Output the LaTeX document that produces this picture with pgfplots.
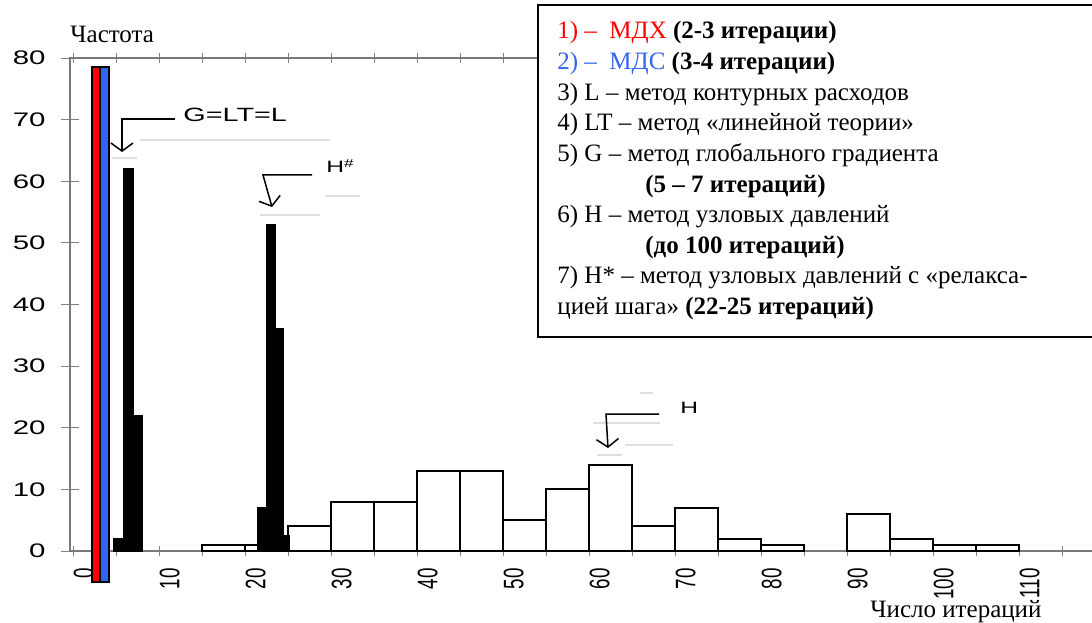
\documentclass[border=0pt]{standalone}
\usepackage{fontspec}
\setmainfont{Liberation Serif}
\newfontfamily\widesans[FakeStretch=1.5]{Liberation Sans}
\newfontfamily\plainsans{Liberation Sans}
\usepackage{pgfplots}
\pgfplotsset{compat=1.18}
\usetikzlibrary{arrows.meta}

\definecolor{mdxred}{RGB}{255,0,0}
\definecolor{mdsblue}{RGB}{51,102,240}
\definecolor{framegray}{RGB}{120,120,120}

\begin{document}
\begin{tikzpicture}
\useasboundingbox (0,0) rectangle (546pt,311pt);
\clip (0,0) rectangle (546pt,311pt);

\begin{axis}[
  at={(35pt,35.5pt)}, anchor=south west,
  scale only axis,
  width=539pt, height=246.5pt,
  xmin=-0.35, xmax=125,
  ymin=0, ymax=80,
  clip=false,
  axis line style={framegray, line width=1pt},
  xtick={0,10,...,110},
  minor xtick={5,15,...,115},
  ytick={0,10,...,80},
  tick align=center,
  major tick length=9pt,
  minor tick length=5pt,
  tick style={gray, line width=0.5pt},
  xtick style={/pgfplots/major tick length=5pt},
  /pgf/number format/assume math mode=true,
  yticklabel style={font=\widesans\fontsize{9.8}{9.8}\selectfont,
    inner sep=0pt, anchor=east, xshift=-7.5pt},
  xticklabel style={font=\plainsans\fontsize{9.4}{9.4}\selectfont,
    inner sep=0pt, yshift=-4pt, xscale=1.5, rotate=90, anchor=north east},
]

% H: histogram of iteration counts, bins of width 5
\addplot[ybar interval, fill=white, draw=black, line width=1pt]
  coordinates {(15,1) (20,1) (25,4) (30,8) (35,8) (40,13) (45,13) (50,5)
               (55,10) (60,14) (65,4) (70,7) (75,2) (80,1) (85,0)};
\addplot[ybar interval, fill=white, draw=black, line width=1pt]
  coordinates {(90,6) (95,2) (100,1) (105,1) (110,0)};

% G = LT = L
\addplot[ybar interval, fill=black, draw=black, line width=0.8pt]
  coordinates {(4.7,2) (5.9,62) (7.0,22) (8.0,0)};

% H#
\addplot[ybar interval, fill=black, draw=black, line width=0.8pt]
  coordinates {(21.5,7) (22.5,53) (23.5,36) (24.4,2.5) (25.1,0)};

% MDX and MDS
\addplot[fill=mdxred, draw=black, line width=1pt]
  coordinates {(2.2,-5) (3.15,-5) (3.15,78.6) (2.2,78.6)} -- cycle;
\addplot[fill=mdsblue, draw=black, line width=1pt]
  coordinates {(3.15,-5) (4.2,-5) (4.2,78.6) (3.15,78.6)} -- cycle;
\end{axis}

% everything below is laid out in pixel units, y running downwards
\begin{scope}[yshift=311pt, x=0.5pt, y=-0.5pt]

% faint traces around the callouts
\begin{scope}[gray!25, line width=0.6pt]
  \draw (140,140) -- (330,140);
  \draw (112,158) -- (137,158);
  \draw (325,196) -- (360,196);
  \draw (260,215) -- (320,215);
  \draw (640,393) -- (653,393);
  \draw (593,423) -- (660,423);
  \draw (625,445) -- (673,445);
  \draw (597,455) -- (622,455);
\end{scope}

% callouts
\begin{scope}[line width=0.75pt, -{Straight Barb[length=4pt,width=11pt]}]
  \draw (175,119) -- (122,119) -- (122,152);
  \draw (312,175) -- (263,175) -- (272,207);
  \draw (659,414) -- (606,414) -- (608,448);
\end{scope}
\node[anchor=base west, inner sep=0pt, font=\widesans\fontsize{9.6}{10}\selectfont]
  at (183,122) {G=LT=L};
\node[anchor=base west, inner sep=0pt, font=\widesans\fontsize{8.2}{9}\selectfont]
  at (326,173) {H\textsuperscript{\#}};
\node[anchor=base west, inner sep=0pt, font=\widesans\fontsize{8.2}{9}\selectfont]
  at (680,413) {H};

% axis titles
\node[anchor=base west, inner sep=0pt, font=\fontsize{12.5}{15}\selectfont]
  at (70,43) {Частота};
\node[anchor=base west, inner sep=0pt, font=\fontsize{12.5}{15}\selectfont]
  at (870,617) {Число итераций};

% key to the methods
\filldraw[fill=white, draw=black, line width=1pt] (538,5) rectangle (1110,337);
\begin{scope}[every node/.style={anchor=base west, inner sep=0pt,
    font=\fontsize{12.5}{15}\selectfont}]
  \node at (557,39)  {\textcolor{mdxred}{1) –\ \ МДХ} \textbf{(2-3 итерации)}};
  \node at (557,70)  {\textcolor{mdsblue}{2) –\ \ МДС} \textbf{(3-4 итерации)}};
  \node at (557,101) {3) L – метод контурных расходов};
  \node at (557,131) {4) LT – метод «линейной теории»};
  \node at (557,162) {5) G – метод глобального градиента};
  \node at (645,193) {\textbf{(5 – 7 итераций)}};
  \node at (557,223) {6) H – метод узловых давлений};
  \node at (645,254) {\textbf{(до 100 итераций)}};
  \node at (557,284) {7) H* – метод узловых давлений с «релакса-};
  \node at (557,315) {цией шага» \textbf{(22-25 итераций)}};
\end{scope}
\end{scope}
\end{tikzpicture}
\end{document}
